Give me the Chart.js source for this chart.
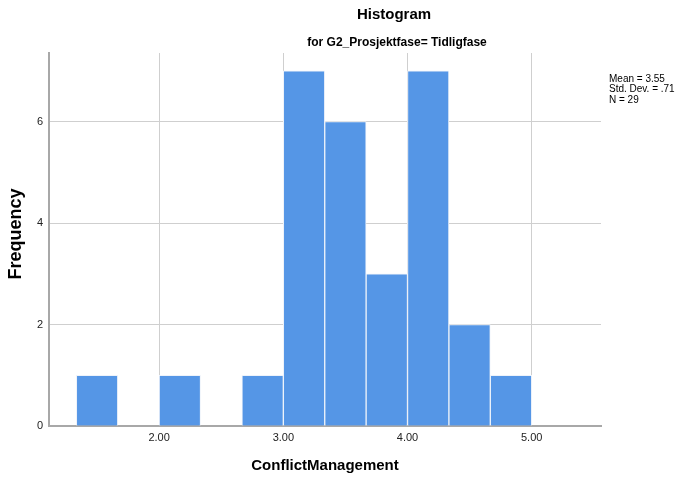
<!DOCTYPE html>
<html>
<head>
<meta charset="utf-8">
<script src="https://cdn.jsdelivr.net/npm/chart.js@4"></script>
<style>
  html, body { margin: 0; padding: 0; background: #fff; }
  #wrap { width: 686px; height: 479px; }
</style>
</head>
<body>
<div id="wrap"><canvas id="hist" width="686" height="479"></canvas></div>
<script>
// histogram bins (centre of each bin, width 1/3) and counts
const binCenters = [1.5, 2.1667, 2.8333, 3.1667, 3.5, 3.8333, 4.1667, 4.5, 4.8333];
const counts = [1, 1, 1, 7, 6, 3, 7, 2, 1];
const xTicks = [2, 3, 4, 5];
const yTicks = [0, 2, 4, 6];
const statLines = ['Mean = 3.55', 'Std. Dev. = .71', 'N = 29'];

const FONT = '"Liberation Sans", Arial, sans-serif';

// titles, axis titles and the stats box
const textPlugin = {
    id: 'spssText',
    afterDraw(chart) {
        const ctx = chart.ctx;
        ctx.save();
        ctx.fillStyle = '#000';
        ctx.textAlign = 'center';
        ctx.textBaseline = 'middle';
        ctx.font = 'bold 15px ' + FONT;
        ctx.fillText('Histogram', 394, 15);
        ctx.font = 'bold 12px ' + FONT;
        ctx.fillText('for G2_Prosjektfase= Tidligfase', 397, 43);

        ctx.font = 'bold 15px ' + FONT;
        ctx.fillText('ConflictManagement', 325, 466);
        ctx.font = 'bold 18px ' + FONT;
        ctx.translate(16, 234);
        ctx.rotate(-Math.PI / 2);
        ctx.fillText('Frequency', 0, 0);
        ctx.restore();

        ctx.save();
        ctx.fillStyle = '#000';
        ctx.font = '10px ' + FONT;
        ctx.textAlign = 'left';
        ctx.textBaseline = 'middle';
        statLines.forEach((s, i) => ctx.fillText(s, 609, 79 + i * 10.5));
        ctx.restore();
    }
};

new Chart(document.getElementById('hist'), {
    type: 'bar',
    data: {
        datasets: [{
            data: binCenters.map((x, i) => ({ x: x, y: counts[i] })),
            backgroundColor: '#5596e6',
            borderColor: '#eef3fa',
            borderWidth: 1,
            barPercentage: 1,
            categoryPercentage: 1
        }]
    },
    options: {
        responsive: false,
        animation: false,
        layout: { padding: { left: 0, right: 85, top: 53, bottom: 0 } },
        plugins: { legend: { display: false }, tooltip: { enabled: false } },
        scales: {
            x: {
                type: 'linear',
                offset: false,
                min: 1.113,
                max: 5.558,
                afterBuildTicks: (s) => { s.ticks = xTicks.map(v => ({ value: v })); },
                afterFit: (s) => { s.height = 53; },
                ticks: {
                    color: '#222',
                    font: { family: FONT, size: 11 },
                    padding: 5,
                    callback: (v) => v.toFixed(2)
                },
                grid: { offset: false, color: '#cfcfcf', lineWidth: 1, drawTicks: false },
                border: { color: '#a8a8a8', width: 2 }
            },
            y: {
                min: 0,
                max: 7.35,
                afterBuildTicks: (s) => { s.ticks = yTicks.map(v => ({ value: v })); },
                afterFit: (s) => { s.width = 49; },
                ticks: {
                    color: '#222',
                    font: { family: FONT, size: 11 },
                    padding: 6
                },
                grid: { color: '#cfcfcf', lineWidth: 1, drawTicks: false },
                border: { color: '#a8a8a8', width: 2 }
            }
        }
    },
    plugins: [textPlugin]
});
</script>
</body>
</html>
